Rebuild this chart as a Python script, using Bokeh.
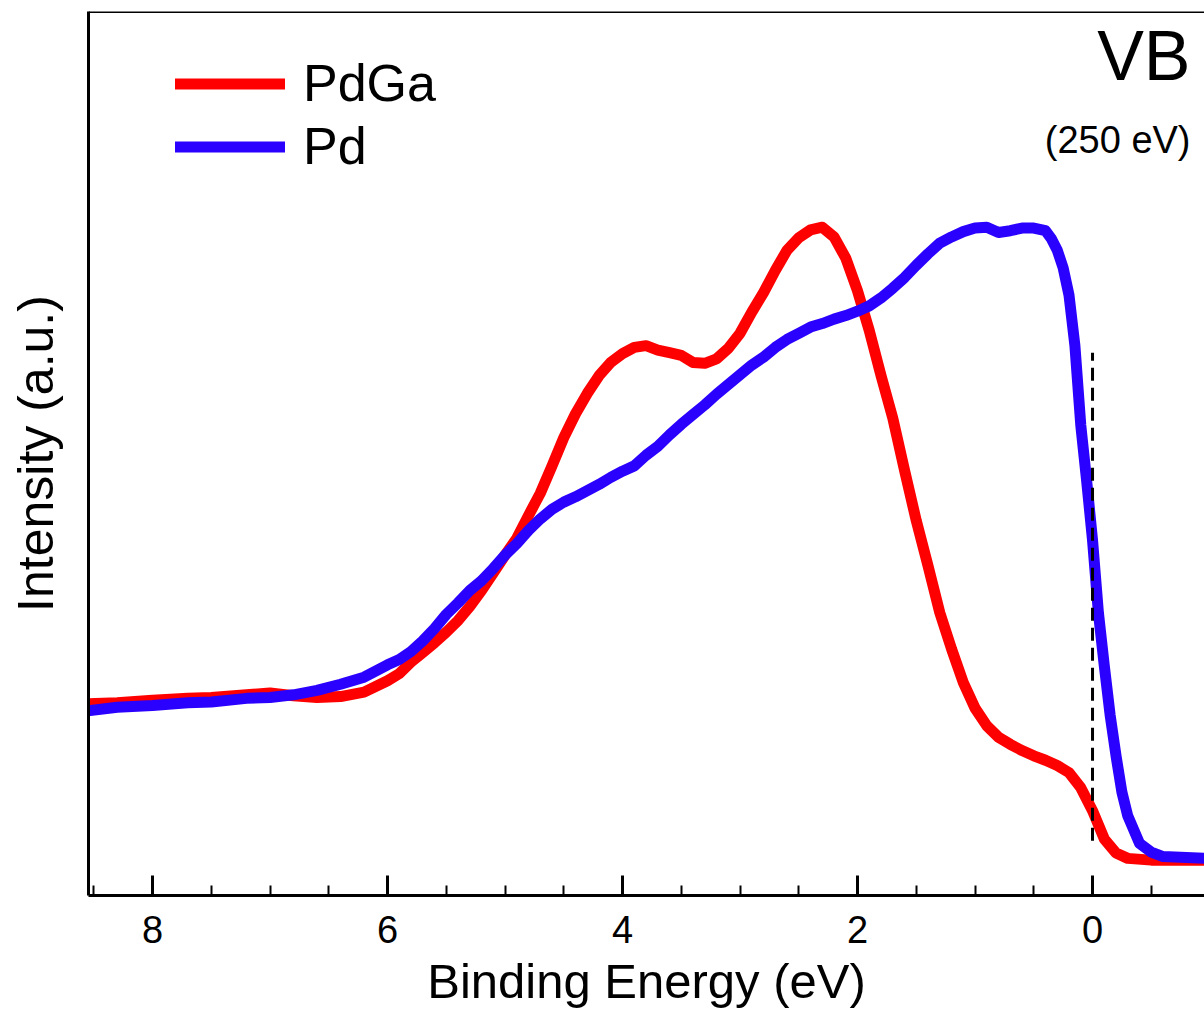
from bokeh.plotting import figure
from bokeh.models import (LinearAxis, FixedTicker, Range1d, Legend, LegendItem, Label, Span)
from bokeh.embed import file_html
from bokeh.resources import INLINE

# Binding energy (eV) and intensity (a.u.)
pdga_energy = [8.55, 8.3, 8.0, 7.7, 7.5, 7.2, 7.0, 6.8, 6.6, 6.4, 6.2, 6.0, 5.9, 5.8, 5.7,
               5.6, 5.5, 5.4, 5.3, 5.2, 5.1, 5.0, 4.9, 4.8, 4.7, 4.6, 4.5, 4.4, 4.3, 4.2,
               4.1, 4.0, 3.9, 3.8, 3.7, 3.6, 3.5, 3.4, 3.3, 3.2, 3.1, 3.0, 2.9, 2.8, 2.7,
               2.6, 2.5, 2.4, 2.3, 2.2, 2.1, 2.0, 1.9, 1.8, 1.7, 1.6, 1.5, 1.4, 1.3, 1.2,
               1.1, 1.0, 0.9, 0.8, 0.7, 0.6, 0.5, 0.4, 0.3, 0.2, 0.1, 0.0, -0.1, -0.2,
               -0.3, -0.5, -0.95]
pdga_intensity = [21.7, 21.8, 22.1, 22.3, 22.4, 22.7, 22.9, 22.6, 22.4, 22.5, 23.0, 24.3,
                  25.1, 26.4, 27.5, 28.6, 29.8, 31.1, 32.7, 34.5, 36.5, 38.5, 40.4, 43.0,
                  45.5, 48.6, 51.8, 54.5, 56.8, 58.8, 60.3, 61.3, 62.0, 62.2, 61.7, 61.4,
                  61.1, 60.3, 60.2, 60.7, 61.9, 63.6, 66.0, 68.2, 70.7, 73.0, 74.4, 75.3,
                  75.6, 74.5, 72.1, 68.4, 63.9, 58.8, 54.0, 48.1, 42.4, 37.3, 32.0, 27.9,
                  24.1, 21.2, 19.2, 17.9, 17.1, 16.4, 15.8, 15.3, 14.7, 13.9, 12.2, 9.6,
                  6.4, 4.8, 4.2, 4.0, 4.0]

pd_energy = [8.55, 8.3, 8.0, 7.7, 7.5, 7.2, 7.0, 6.8, 6.6, 6.4, 6.2, 6.0, 5.9, 5.8, 5.7,
             5.6, 5.5, 5.4, 5.3, 5.2, 5.1, 5.0, 4.9, 4.8, 4.7, 4.6, 4.5, 4.4, 4.3, 4.2,
             4.1, 4.0, 3.9, 3.8, 3.7, 3.6, 3.5, 3.4, 3.3, 3.2, 3.1, 3.0, 2.9, 2.8, 2.7,
             2.6, 2.5, 2.4, 2.3, 2.2, 2.1, 2.0, 1.9, 1.8, 1.7, 1.6, 1.5, 1.4, 1.3, 1.2,
             1.1, 1.0, 0.9, 0.8, 0.7, 0.6, 0.5, 0.4, 0.35, 0.3, 0.25, 0.2, 0.15, 0.1,
             0.05, 0.0, -0.05, -0.1, -0.15, -0.2, -0.25, -0.3, -0.4, -0.5, -0.6, -0.95]
pd_intensity = [20.9, 21.3, 21.5, 21.8, 21.9, 22.3, 22.4, 22.7, 23.2, 23.9, 24.7, 26.1,
                26.7, 27.6, 28.8, 30.2, 31.8, 33.1, 34.5, 35.6, 37.0, 38.5, 39.8, 41.3,
                42.6, 43.7, 44.5, 45.1, 45.8, 46.5, 47.3, 48.0, 48.6, 49.8, 50.8, 52.1,
                53.3, 54.4, 55.5, 56.7, 57.8, 58.9, 60.0, 60.9, 62.0, 62.9, 63.6, 64.3,
                64.7, 65.2, 65.6, 66.1, 66.7, 67.6, 68.7, 69.9, 71.3, 72.6, 73.8, 74.5,
                75.1, 75.5, 75.6, 75.0, 75.2, 75.5, 75.5, 75.2, 74.3, 73.0, 71.0, 67.9,
                62.2, 53.2, 46.9, 40.2, 32.0, 26.0, 20.4, 15.8, 11.7, 9.0, 5.9, 4.9,
                4.4, 4.2]

series_labels = ["PdGa", "Pd"]
series_colors = ["#ff0000", "#2a00ff"]
x_ticks = [8, 6, 4, 2, 0]
x_minor_ticks = [8.5, 7.5, 7.0, 6.5, 5.5, 5.0, 4.5, 3.5, 3.0, 2.5, 1.5, 1.0, 0.5, -0.5]
x_title = "Binding Energy (eV)"
y_title = "Intensity (a.u.)"
fermi_level = 0.0

FONT = "Liberation Sans"

p = figure(width=1204, height=1018, output_backend="svg", toolbar_location=None,
           x_range=Range1d(8.545, -0.953), y_range=Range1d(0, 100),
           x_axis_location=None, y_axis_location=None,
           min_border_left=88, min_border_right=0, min_border_top=11, min_border_bottom=123)
p.outline_line_color = None
p.xgrid.visible = False
p.ygrid.visible = False
p.background_fill_color = "white"

# bottom axis
xa = LinearAxis(ticker=FixedTicker(ticks=x_ticks, minor_ticks=x_minor_ticks),
                axis_label=x_title)
xa.axis_line_width = 3
xa.axis_line_color = "black"
xa.major_tick_in = 20
xa.major_tick_out = 0
xa.major_tick_line_width = 3
xa.minor_tick_in = 10
xa.minor_tick_out = 0
xa.minor_tick_line_width = 2
xa.major_label_text_font = FONT
xa.major_label_text_font_size = "38px"
xa.major_label_text_color = "black"
xa.major_label_text_line_height = 0.8
xa.major_label_standoff = 20
xa.axis_label_text_font = FONT
xa.axis_label_text_font_size = "49px"
xa.axis_label_text_font_style = "normal"
xa.axis_label_text_color = "black"
xa.axis_label_text_line_height = 0.8
xa.axis_label_standoff = 8
p.add_layout(xa, "below")

# left axis (label only)
ya = LinearAxis(ticker=FixedTicker(ticks=[]), axis_label=y_title)
ya.axis_line_width = 3
ya.axis_line_color = "black"
ya.major_label_text_font_size = "0px"
ya.major_tick_in = 0
ya.major_tick_out = 0
ya.minor_tick_in = 0
ya.minor_tick_out = 0
ya.axis_label_text_font = FONT
ya.axis_label_text_font_size = "50px"
ya.axis_label_text_font_style = "normal"
ya.axis_label_text_color = "black"
ya.axis_label_standoff = 25
p.add_layout(ya, "left")

# top frame line
p.add_layout(Span(location=100, dimension="width", line_color="black", line_width=3))

r1 = p.line(pdga_energy, pdga_intensity, line_color=series_colors[0], line_width=11,
            line_cap="round", line_join="round")
r2 = p.line(pd_energy, pd_intensity, line_color=series_colors[1], line_width=11,
            line_cap="round", line_join="round")

# Fermi level marker
p.segment(x0=[fermi_level], y0=[6.2], x1=[fermi_level], y1=[61.4],
          line_color="black", line_width=3, line_dash="13 7")

legend = Legend(items=[LegendItem(label=series_labels[0], renderers=[r1]),
                       LegendItem(label=series_labels[1], renderers=[r2])])
legend.glyph_width = 110
legend.glyph_height = 57
legend.label_height = 57
legend.spacing = 3
legend.label_standoff = 18
legend.label_text_font = FONT
legend.label_text_font_size = "52px"
legend.label_text_color = "black"
legend.border_line_color = None
legend.background_fill_alpha = 0
legend.padding = 0
legend.margin = 0
legend.location = (87, 719)
p.add_layout(legend)

p.add_layout(Label(x=-0.834, y=95.0, text="VB", text_align="right", text_baseline="middle",
                   text_font=FONT, text_font_size="70px", text_color="black"))
p.add_layout(Label(x=-0.834, y=85.5, text="(250 eV)", text_align="right",
                   text_baseline="middle", text_font=FONT, text_font_size="38px",
                   text_color="black"))

open("out.html", "w").write(file_html(p, INLINE))
